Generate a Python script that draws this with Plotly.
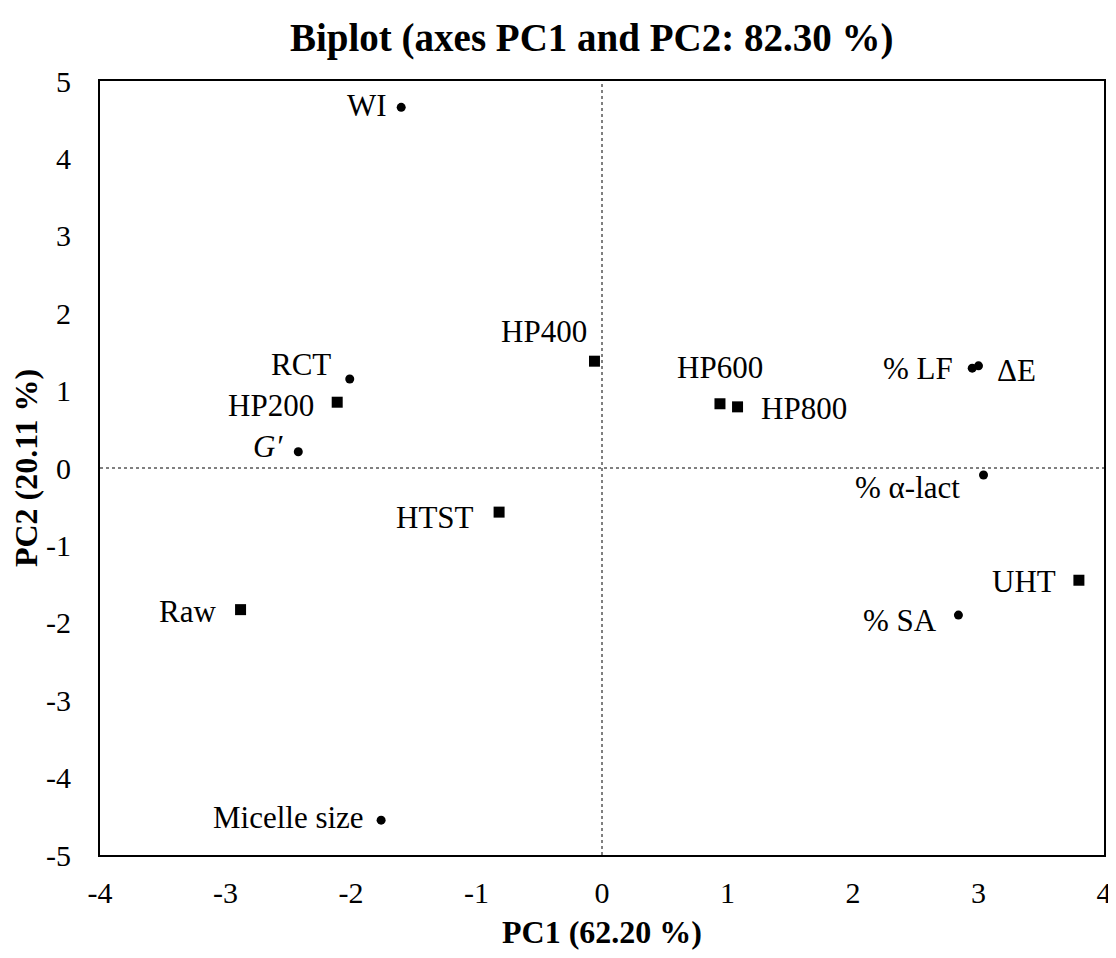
import plotly.graph_objects as go

# ---- data ----
var_names = ["WI", "RCT", "<i>G′</i>", "% LF", "ΔE", "% α-lact", "% SA", "Micelle size"]
var_pc1 = [-1.60, -2.01, -2.42, 2.95, 3.00, 3.04, 2.84, -1.76]
var_pc2 = [4.66, 1.15, 0.21, 1.29, 1.32, -0.09, -1.90, -4.55]

obs_names = ["HP200", "HP400", "HP600", "HP800", "HTST", "Raw", "UHT"]
obs_pc1 = [-2.11, -0.06, 0.94, 1.08, -0.82, -2.88, 3.80]
obs_pc2 = [0.85, 1.38, 0.83, 0.79, -0.57, -1.83, -1.45]

x_ticks = [-4, -3, -2, -1, 0, 1, 2, 3, 4]
y_ticks = [-5, -4, -3, -2, -1, 0, 1, 2, 3, 4, 5]

# label placement (anchor, xshift px, yshift px)
label_style = {
    "WI": ("right", -12, 2),
    "RCT": ("right", -17, 14),
    "<i>G′</i>": ("right", -13, 5),
    "% LF": ("right", -17, 0),
    "ΔE": ("left", 16, -5),
    "% α-lact": ("right", -22, -13),
    "% SA": ("right", -19, -5),
    "Micelle size": ("right", -15, 3),
    "HP200": ("right", -21, -3),
    "HP400": ("right", -5, 30),
    "HP600": ("center", 0, 36),
    "HP800": ("left", 21, -2),
    "HTST": ("right", -23, -5),
    "Raw": ("right", -23, -2),
    "UHT": ("right", -21, -1),
}

FONT = "Liberation Serif, Times New Roman, serif"
W, H = 1108, 942          # page body has an 8px margin
L, R, T, B = 92, 12, 73, 95
PH = H - T - B
PW = W - L - R

fig = go.Figure()
fig.add_trace(go.Scatter(x=var_pc1, y=var_pc2, mode="markers",
                         marker=dict(symbol="circle", size=9, color="black"),
                         hoverinfo="text", text=var_names, showlegend=False))
fig.add_trace(go.Scatter(x=obs_pc1, y=obs_pc2, mode="markers",
                         marker=dict(symbol="square", size=11, color="black"),
                         hoverinfo="text", text=obs_names, showlegend=False))

annotations = []
for names, xs, ys in [(var_names, var_pc1, var_pc2), (obs_names, obs_pc1, obs_pc2)]:
    for n, xv, yv in zip(names, xs, ys):
        anc, dx, dy = label_style[n]
        annotations.append(dict(x=xv, y=yv, xref="x", yref="y", text=n, showarrow=False,
                                xanchor=anc, yanchor="middle", xshift=dx, yshift=dy,
                                font=dict(family=FONT, size=31, color="black")))

annotations.append(dict(text="<b>Biplot (axes PC1 and PC2: 82.30 %)</b>", xref="paper", yref="paper",
                        x=(583 - L) / PW, y=1 + (T - 30) / PH, xanchor="center", yanchor="middle",
                        showarrow=False, font=dict(family=FONT, size=39, color="black")))

shapes = [
    dict(type="line", xref="x", yref="paper", x0=0, x1=0, y0=0, y1=1,
         line=dict(color="black", width=1, dash="dot")),
    dict(type="line", xref="paper", yref="y", x0=0, x1=1, y0=0, y1=0,
         line=dict(color="black", width=1, dash="dot")),
]

fig.update_layout(
    width=W, height=H,
    margin=dict(l=L, r=R, t=T, b=B, autoexpand=False),
    paper_bgcolor="white", plot_bgcolor="white",
    font=dict(family=FONT, color="black"),
    annotations=annotations, shapes=shapes,
)
fig.update_xaxes(range=[-4, 4], tickvals=x_ticks, ticktext=[str(v) for v in x_ticks],
                 showgrid=False, zeroline=False, showline=True, linecolor="black", linewidth=2,
                 mirror=True, ticks="", ticklabelstandoff=10, automargin=False,
                 tickfont=dict(family=FONT, size=30, color="black"),
                 title=dict(text="<b>PC1 (62.20 %)</b>", font=dict(family=FONT, size=32, color="black"),
                            standoff=19))
fig.update_yaxes(range=[-5, 5], tickvals=y_ticks, ticktext=[str(v) for v in y_ticks],
                 showgrid=False, zeroline=False, showline=True, linecolor="black", linewidth=2,
                 mirror=True, ticks="", ticklabelstandoff=21, automargin=False,
                 tickfont=dict(family=FONT, size=30, color="black"),
                 title=dict(text="<b>PC2 (20.11 %)</b>", font=dict(family=FONT, size=32, color="black"),
                            standoff=20))

fig.write_html("out.html")
